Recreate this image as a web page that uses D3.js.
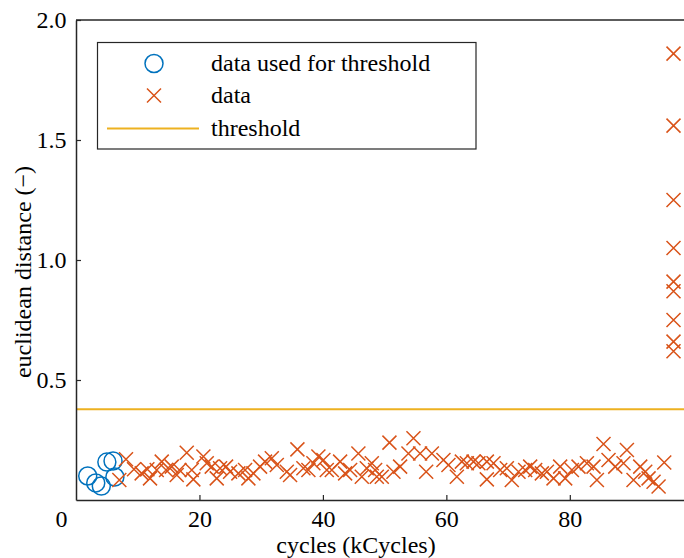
<!DOCTYPE html>
<html>
<head>
<meta charset="utf-8">
<script src="https://cdn.jsdelivr.net/npm/d3@7"></script>
<style>
  html, body { margin: 0; padding: 0; background: #fff; }
  svg { display: block; }
  text { font-family: "Liberation Serif", "Times New Roman", serif; fill: #000; }
</style>
</head>
<body>
<svg id="chart" width="684" height="558"></svg>
<script>
// ---- data ----
const usedX = [1.9, 3.2, 4.1, 5.0, 6.0, 6.3];
const usedY = [0.100, 0.071, 0.058, 0.158, 0.163, 0.096];

const dataX = [8.10, 7.02, 9.40, 10.64, 11.56, 11.99, 13.08, 13.89, 14.59, 15.51, 16.32, 16.75, 17.94, 18.75, 19.01,
  20.64, 21.18, 21.99, 22.80, 23.34, 24.31, 24.96, 26.31, 27.39, 27.93, 28.74, 29.82, 30.63, 31.72, 32.53,
  34.15, 34.68, 35.87, 36.84, 37.65, 38.46, 39.27, 40.08, 40.63, 41.44, 42.79, 43.60, 44.41, 45.75, 46.30,
  47.11, 47.92, 48.73,
  48.46, 49.54, 50.78, 51.43, 52.51, 54.67, 53.86, 55.75, 56.73, 57.65, 59.53, 60.34, 61.70, 62.51, 63.32,
  64.40, 65.20, 66.56, 66.56, 67.64, 68.72, 69.80, 70.60, 71.69, 72.77, 73.58, 74.39, 75.47, 76.29, 77.36,
  78.44, 79.25, 80.34, 81.41, 82.77, 83.84, 84.39, 85.46, 86.27, 87.36, 88.70, 89.25, 90.32, 91.41, 92.22,
  92.76, 93.57, 94.38, 95.30,
  96.8, 96.8, 96.8, 96.8, 96.8, 96.8, 96.8, 96.8, 96.8];
const dataY = [0.170, 0.083, 0.128, 0.111, 0.128, 0.090, 0.125, 0.160, 0.125, 0.139, 0.104, 0.125, 0.197, 0.125, 0.086,
  0.181, 0.153, 0.139, 0.090, 0.132, 0.139, 0.118, 0.111, 0.125, 0.090, 0.111, 0.139, 0.160, 0.174, 0.146,
  0.118, 0.104, 0.211, 0.132, 0.125, 0.153, 0.181, 0.167, 0.125, 0.125, 0.160, 0.111, 0.125, 0.194, 0.097,
  0.132, 0.153, 0.097,
  0.125, 0.097, 0.239, 0.118, 0.139, 0.257, 0.194, 0.194, 0.118, 0.194, 0.167, 0.146, 0.097, 0.160, 0.153,
  0.160, 0.153, 0.086, 0.160, 0.153, 0.125, 0.132, 0.083, 0.118, 0.125, 0.139, 0.125, 0.111, 0.118, 0.090,
  0.139, 0.090, 0.125, 0.139, 0.153, 0.139, 0.083, 0.233, 0.167, 0.139, 0.153, 0.208, 0.083, 0.139, 0.118,
  0.090, 0.076, 0.056, 0.156,
  1.86, 1.56, 1.25, 1.05, 0.91, 0.87, 0.75, 0.66, 0.62];

const threshold = 0.378;
const xTicks = [0, 20, 40, 60, 80];
const yTicks = [0.5, 1.0, 1.5, 2.0];
const legendLabels = ["data used for threshold", "data", "threshold"];
const xLabel = "cycles (kCycles)";
const yLabel = "euclidean distance (\u2212)";

(function () {
// ---- styles ----
const C_BLUE = "#0072BD", C_ORANGE = "#D95319", C_YELLOW = "#EDB120", C_AXIS = "#262626";

const svg = d3.select("#chart");
const pL = 76, pR = 684, pT = 20, pB = 500;
const x = d3.scaleLinear().domain([0, 98.5]).range([pL, pR]);
const y = d3.scaleLinear().domain([0, 2]).range([pB, pT]);

// points
const plot = svg.append("g");
plot.selectAll("circle.used").data(usedX.map((d, i) => [d, usedY[i]])).enter()
  .append("circle").attr("class", "used")
  .attr("cx", d => x(d[0])).attr("cy", d => y(d[1])).attr("r", 9)
  .attr("fill", "none").attr("stroke", C_BLUE).attr("stroke-width", 1.5);

const s = 7;
plot.selectAll("path.xm").data(dataX.map((d, i) => [d, dataY[i]])).enter()
  .append("path").attr("class", "xm")
  .attr("d", d => {
    const cx = x(d[0]), cy = y(d[1]);
    return `M${cx - s},${cy - s}L${cx + s},${cy + s}M${cx - s},${cy + s}L${cx + s},${cy - s}`;
  })
  .attr("stroke", C_ORANGE).attr("stroke-width", 1.5).attr("fill", "none");

// threshold
plot.append("line").attr("x1", pL).attr("x2", pR)
  .attr("y1", y(threshold)).attr("y2", y(threshold))
  .attr("stroke", C_YELLOW).attr("stroke-width", 2);

// axes
const xAxis = d3.axisBottom(x).tickValues(xTicks).tickFormat(d3.format("d"))
  .tickSizeInner(-5).tickSizeOuter(0).tickPadding(10);
const gx = svg.append("g").attr("transform", `translate(0,${pB})`).call(xAxis);
gx.selectAll("text").attr("font-size", 24).style("font-family", "Liberation Serif, serif").attr("fill", "#000");
gx.selectAll(".tick").filter(d => d === 0).select("text").attr("x", -15);
gx.selectAll(".tick").filter(d => d === 0).select("line").remove();

const yAxis = d3.axisLeft(y).tickValues(yTicks).tickFormat(d3.format(".1f"))
  .tickSizeInner(-5).tickSizeOuter(0).tickPadding(9.5);
const gy = svg.append("g").attr("transform", `translate(${pL},0)`).call(yAxis);
gy.selectAll("text").attr("font-size", 24).style("font-family", "Liberation Serif, serif").attr("fill", "#000");

[gx, gy].forEach(g => {
  g.select(".domain").attr("stroke", C_AXIS).attr("stroke-width", 1.5);
  g.selectAll(".tick line").attr("stroke", C_AXIS).attr("stroke-width", 1.2);
});

// top box line
svg.append("line").attr("x1", pL).attr("x2", pR).attr("y1", pT).attr("y2", pT)
  .attr("stroke", C_AXIS).attr("stroke-width", 1.5);

// axis labels
svg.append("text").attr("x", 356).attr("y", 552.5).attr("text-anchor", "middle")
  .attr("font-size", 24).text(xLabel);
svg.append("text").attr("transform", "translate(31,272) rotate(-90)").attr("text-anchor", "middle")
  .attr("font-size", 24).text(yLabel);

// legend
const lg = svg.append("g");
lg.append("rect").attr("x", 97.5).attr("y", 42.5).attr("width", 378.5).attr("height", 106.5)
  .attr("fill", "#fff").attr("stroke", C_AXIS).attr("stroke-width", 1.2);
const rows = [63.5, 95.5, 128.5];
lg.append("circle").attr("cx", 154).attr("cy", rows[0]).attr("r", 9)
  .attr("fill", "none").attr("stroke", C_BLUE).attr("stroke-width", 1.5);
lg.append("path").attr("d", `M${154 - s},${rows[1] - s}L${154 + s},${rows[1] + s}M${154 - s},${rows[1] + s}L${154 + s},${rows[1] - s}`)
  .attr("stroke", C_ORANGE).attr("stroke-width", 1.5);
lg.append("line").attr("x1", 107).attr("x2", 199).attr("y1", rows[2]).attr("y2", rows[2])
  .attr("stroke", C_YELLOW).attr("stroke-width", 2);
lg.selectAll("text.lab").data(legendLabels).enter().append("text").attr("class", "lab")
  .attr("x", 211).attr("y", (d, i) => rows[i]).attr("dy", "0.33em")
  .attr("font-size", 24).text(d => d);
})();
</script>
</body>
</html>
